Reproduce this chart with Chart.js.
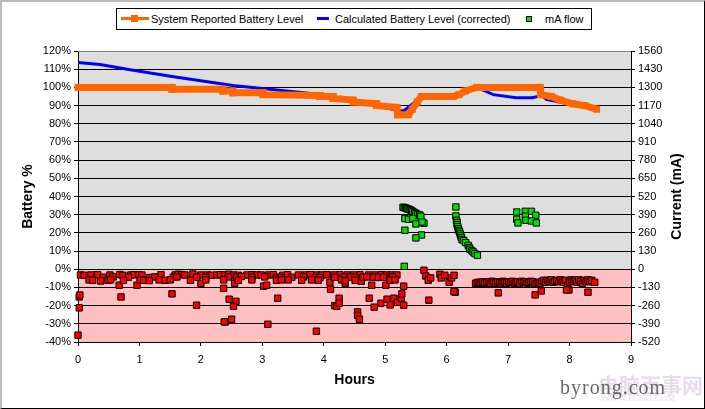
<!DOCTYPE html>
<html>
<head>
<meta charset="utf-8">
<script src="https://cdn.jsdelivr.net/npm/chart.js@4/dist/chart.umd.min.js"></script>
<style>
html, body { margin: 0; padding: 0; background: #fff; overflow: hidden; }
#wrap { position: relative; width: 705px; height: 409px; font-family: "Liberation Sans", Arial, sans-serif; color: #000; }
#wrap canvas { position: absolute; left: 0; top: 0; }
#frame { position: absolute; left: 0; top: 0; width: 705px; height: 409px; box-sizing: border-box;
	border-left: 2px solid #bbb; border-top: 2px solid #bbb; border-right: 1px solid #000; border-bottom: 1px solid #000; }
#legend { position: absolute; left: 116px; top: 8px; width: 474px; height: 20px; border: 1px solid #000; background: #fff; font-size: 11px; line-height: 20px; }
#legend span { position: absolute; white-space: nowrap; }
.wm { position: absolute; white-space: nowrap; }
</style>
</head>
<body>
<div id="wrap">
	<canvas id="batteryChart" width="705" height="409"></canvas>
	<div id="frame"></div>
	<div id="legend"></div>
	<div class="wm" style="left:598px;top:369px;font:bold 21px 'Noto Sans CJK SC';color:#e6dde9;">电脑百事网</div>
	<div class="wm" style="left:601px;top:393px;font:9px 'Liberation Serif';color:#e6dde9;">WWW.PC841.COM</div>
	<div class="wm" style="left:560px;top:376px;font:20px 'Liberation Serif';color:#666;letter-spacing:1px;">byrong.com</div>
</div>
<script>
// Niveau rapporté par le système (%)
const reported = [
	[0, 100], [1.53, 100], [1.53, 99], [2.36, 99], [2.36, 98], [2.52, 98], [2.52, 97], [3.01, 97],
	[3.01, 96], [3.94, 95.5], [3.94, 95], [4.15, 95], [4.15, 94], [4.48, 93], [4.48, 92], [4.86, 91],
	[4.86, 90], [5.19, 89], [5.2, 85], [5.38, 85], [5.44, 88], [5.52, 92], [5.59, 95], [6.11, 95],
	[6.2, 96], [6.3, 98], [6.49, 100], [7.52, 100], [7.53, 96], [7.7, 95], [7.85, 93], [8.05, 91],
	[8.25, 90], [8.44, 88]
];
// Niveau calculé (%)
const calculated = [
	[0, 113.7], [0.36, 112.6], [0.8, 110], [1.53, 106], [2.52, 101], [3.72, 96.9], [4.6, 92],
	[5.19, 87.4], [5.3, 87], [5.45, 91], [5.62, 95.8], [6.1, 95], [6.49, 100], [6.76, 96],
	[7.13, 94.3], [7.39, 94.3], [7.55, 95.5], [7.62, 93.4], [8.44, 88]
];
// Courant en charge (mA)
const charging = [
	[5.29, 443], [5.31, 441], [5.33, 438], [5.35, 434], [5.37, 430], [5.39, 428], [5.41, 424],
	[5.43, 418], [5.45, 412], [5.48, 405], [5.5, 398], [5.53, 392], [5.56, 388], [5.58, 379],
	[5.32, 362], [5.38, 357], [5.45, 362], [5.5, 324], [5.63, 329], [5.6, 338], [5.32, 279], [5.59, 245], [5.5, 224], [5.31, 21],
	[6.15, 445], [6.15, 381], [6.16, 350], [6.17, 335], [6.17, 319], [6.18, 305], [6.19, 290], [6.2, 278], [6.21, 266],
	[6.22, 252], [6.23, 238], [6.24, 225], [6.25, 212], [6.28, 205], [6.31, 190], [6.35, 171], [6.37, 155], [6.38, 143],
	[6.41, 132], [6.43, 124], [6.46, 112], [6.5, 100],
	[7.14, 409], [7.28, 414], [7.38, 414], [7.45, 386], [7.28, 379], [7.14, 357], [7.29, 350], [7.16, 331], [7.38, 345], [7.46, 331]
];
// Courant en décharge (mA)
const discharging = [
	[0, -471], [0.02, -198], [0.03, -184], [0.02, -276], [0.67, -114], [0.7, -198], [0.96, -114], [1.53, -176], [1.93, -257],
	[2, -100], [2.37, -136], [2.4, -376], [2.38, -376], [2.5, -357], [2.46, -214], [2.57, -229], [2.53, -264], [2.55, -100],
	[3.02, -121], [3.07, -114], [3.09, -393], [3.25, -207], [3.88, -443], [4.1, -93], [4.11, -143], [4.18, -260], [4.21, -264],
	[4.25, -207], [4.25, -243], [4.35, -100], [4.55, -305], [4.55, -329], [4.58, -357], [4.61, -86], [4.78, -114], [5.01, -114],
	[4.74, -207], [4.82, -271], [4.93, -243], [5.03, -214], [5.08, -255], [5.14, -207], [5.2, -236], [5.26, -207], [5.27, -176],
	[5.3, -121], [5.3, -257], [5.63, -7], [5.66, -48], [5.7, -79], [5.71, -221], [5.74, -62], [5.89, -36], [5.91, -62], [5.97, -43],
	[6.04, -93], [6.08, -62], [6.12, -43], [6.14, -164], [6.12, -160],
	[0.04, -41], [0.1, -43], [0.21, -41], [0.32, -39], [0.52, -41], [0.68, -38], [0.73, -43], [0.86, -41], [0.91, -39], [0.99, -41],
	[1.04, -41], [1.35, -39], [1.58, -41], [1.63, -36], [1.69, -38], [1.74, -41], [1.87, -34], [2, -41], [2.11, -41], [2.17, -43],
	[2.26, -41], [2.32, -39], [2.39, -41], [2.45, -36], [2.53, -41], [2.61, -43], [2.75, -41], [2.83, -39], [2.91, -41], [2.98, -41],
	[3.1, -41], [3.18, -39], [3.33, -43], [3.41, -39], [3.59, -41], [3.7, -41], [3.78, -39], [3.89, -41], [3.97, -41], [4.05, -39],
	[4.16, -41], [4.26, -39], [4.38, -41], [4.48, -41], [4.59, -39], [4.73, -41], [4.83, -41], [4.94, -39], [5.02, -41], [5.1, -41], [5.19, -41],
	[0.41, -57], [0.57, -55], [0.82, -57], [1.17, -59], [1.25, -55], [1.55, -57], [1.61, -55], [1.93, -57], [2.08, -59], [2.45, -55],
	[2.58, -57], [2.66, -52], [2.83, -57], [3.04, -55], [3.23, -57], [3.29, -59], [3.48, -57], [3.67, -55], [3.86, -57], [3.94, -59],
	[4.18, -57], [4.32, -55], [4.43, -57], [4.51, -59], [4.64, -57], [4.7, -55], [4.81, -57], [4.89, -59], [4.97, -57], [5.12, -55],
	[0.18, -76], [0.24, -79], [0.37, -84], [0.49, -79], [0.53, -76], [0.74, -79], [1.01, -76], [1.07, -79], [1.16, -81], [1.32, -76],
	[1.42, -79], [1.5, -76], [1.83, -79], [2.08, -76], [2.37, -76], [2.61, -79], [2.83, -76], [3.23, -79], [3.31, -76], [3.42, -76],
	[3.64, -79], [3.8, -76], [3.91, -79], [4.29, -76], [4.35, -84], [4.51, -79], [5.08, -79], [5.16, -76],
	[6.47, -100], [6.5, -93], [6.53, -100], [6.56, -93], [6.59, -90], [6.62, -100], [6.65, -93], [6.68, -90], [6.71, -100], [6.74, -86],
	[6.77, -93], [6.8, -100], [6.83, -90], [6.86, -93], [6.89, -100], [6.92, -86], [6.95, -93], [6.98, -100], [7.01, -90], [7.04, -93],
	[7.07, -86], [7.1, -100], [7.13, -93], [7.16, -90], [7.19, -100], [7.22, -86], [7.25, -93], [7.28, -90], [7.31, -100], [7.34, -93],
	[7.37, -86], [7.4, -90], [7.43, -107], [7.46, -100], [7.49, -93], [7.52, -100], [7.55, -86], [7.58, -79], [7.61, -93], [7.64, -79],
	[7.67, -86], [7.7, -76], [7.73, -93], [7.76, -86], [7.79, -79], [7.82, -90], [7.85, -76], [7.88, -86], [7.91, -93], [7.94, -79],
	[7.97, -114], [8, -90], [8.03, -76], [8.06, -86], [8.09, -79], [8.12, -93], [8.15, -76], [8.18, -86], [8.21, -100], [8.24, -79],
	[8.27, -86], [8.3, -76], [8.33, -90], [8.36, -79],
	[6.84, -169], [7.44, -183], [7.54, -155], [7.99, -148], [7.95, -148], [8.3, -164], [8.41, -93]
];

function toPoints(rows) {
	return rows.map(function (r) { return { x: r[0], y: r[1] }; });
}

const backgroundBands = {
	id: "backgroundBands",
	beforeDraw: function (chart) {
		const c = chart.ctx, a = chart.chartArea, zero = chart.scales.y.getPixelForValue(0);
		c.save();
		c.fillStyle = "#dedede";
		c.fillRect(a.left, a.top, a.right - a.left, zero - a.top);
		c.fillStyle = "#ffc0c4";
		c.fillRect(a.left, zero, a.right - a.left, a.bottom - zero);
		c.restore();
	},
	afterDraw: function (chart) {
		// titre de l'axe droit, lu de bas en haut
		const c = chart.ctx, a = chart.chartArea;
		c.save();
		c.fillStyle = "#808080";
		c.fillRect(a.left, a.top, a.right - a.left, 1);
		c.translate(677, (a.top + a.bottom) / 2);
		c.rotate(-Math.PI / 2);
		c.font = "bold 14px 'Liberation Sans'";
		c.fillStyle = "#000";
		c.textAlign = "center";
		c.textBaseline = "middle";
		c.fillText("Current (mA)", 0, 0);
		c.restore();
	},
};

const tickFont = { family: "'Liberation Sans'", size: 11 };
const titleFont = { family: "'Liberation Sans'", size: 14, weight: "bold" };

new Chart(document.getElementById("batteryChart").getContext("2d"), {
	type: "scatter",
	data: {
		datasets: [
			{ label: "System Reported Battery Level", data: toPoints(reported), showLine: true, borderColor: "#ff6600", backgroundColor: "#ff6600", borderWidth: 7, pointStyle: "rect", pointRadius: 5, pointBorderWidth: 0, yAxisID: "y", clip: false },
			{ label: "Calculated Battery Level (corrected)", data: toPoints(calculated), showLine: true, borderColor: "#0000ff", borderWidth: 3, pointRadius: 0, yAxisID: "y" },
			{ label: "mA flow", data: toPoints(charging), backgroundColor: "#00e000", borderColor: "#000", borderWidth: 1, pointStyle: "rect", pointRadius: 4.5, yAxisID: "y2", clip: false },
			{ label: "mA flow (discharge)", data: toPoints(discharging), backgroundColor: "#ff0000", borderColor: "#000", borderWidth: 1, pointStyle: "rect", pointRadius: 4.5, yAxisID: "y2", clip: false },
		],
	},
	options: {
		responsive: false,
		animation: false,
		devicePixelRatio: 1,
		layout: { padding: { left: 0, right: 0, top: 51, bottom: 0 } },
		plugins: { legend: { display: false }, title: { display: false }, tooltip: { enabled: false } },
		scales: {
			x: {
				type: "linear", min: 0, max: 9,
				afterFit: function (s) { s.height = 67; },
				ticks: { stepSize: 1, color: "#000", font: tickFont, padding: 7, maxRotation: 0 },
				grid: { drawOnChartArea: false, color: "#000", tickLength: 4 },
				border: { color: "#000" },
				title: { display: true, text: "Hours", color: "#000", font: titleFont, padding: { top: 0, bottom: 20 } },
			},
			y: {
				position: "left", min: -40, max: 120,
				afterFit: function (s) { s.width = 78; },
				ticks: { stepSize: 10, color: "#000", font: tickFont, padding: 3, callback: function (v) { return v + "%"; } },
				grid: { color: "#000", tickColor: "#000", tickLength: 4 },
				border: { color: "#000" },
				title: { display: true, text: "Battery %", color: "#000", font: titleFont, padding: { top: 20, bottom: 0 } },
			},
			y2: {
				position: "right", min: -520, max: 1560,
				afterFit: function (s) { s.width = 74; },
				ticks: { stepSize: 130, color: "#000", font: tickFont, padding: 3, callback: function (v) { return String(v); } },
				grid: { drawOnChartArea: false, color: "#000", tickLength: 4 },
				border: { color: "#000" },
			},
		},
	},
	plugins: [backgroundBands],
});

// Légende faite à la main
document.getElementById("legend").innerHTML =
	'<span style="left:4px;top:8px;width:28px;height:3px;background:#ff6600;"></span>' +
	'<span style="left:14px;top:6px;width:7px;height:7px;background:#ff6600;"></span>' +
	'<span style="left:34px;top:0;">System Reported Battery Level</span>' +
	'<span style="left:200px;top:8px;width:12px;height:3px;background:#0000ff;"></span>' +
	'<span style="left:218px;top:0;">Calculated Battery Level (corrected)</span>' +
	'<span style="left:409px;top:7px;width:4px;height:4px;background:#00e000;border:1px solid #000;"></span>' +
	'<span style="left:428px;top:0;">mA flow</span>';
</script>
</body>
</html>
